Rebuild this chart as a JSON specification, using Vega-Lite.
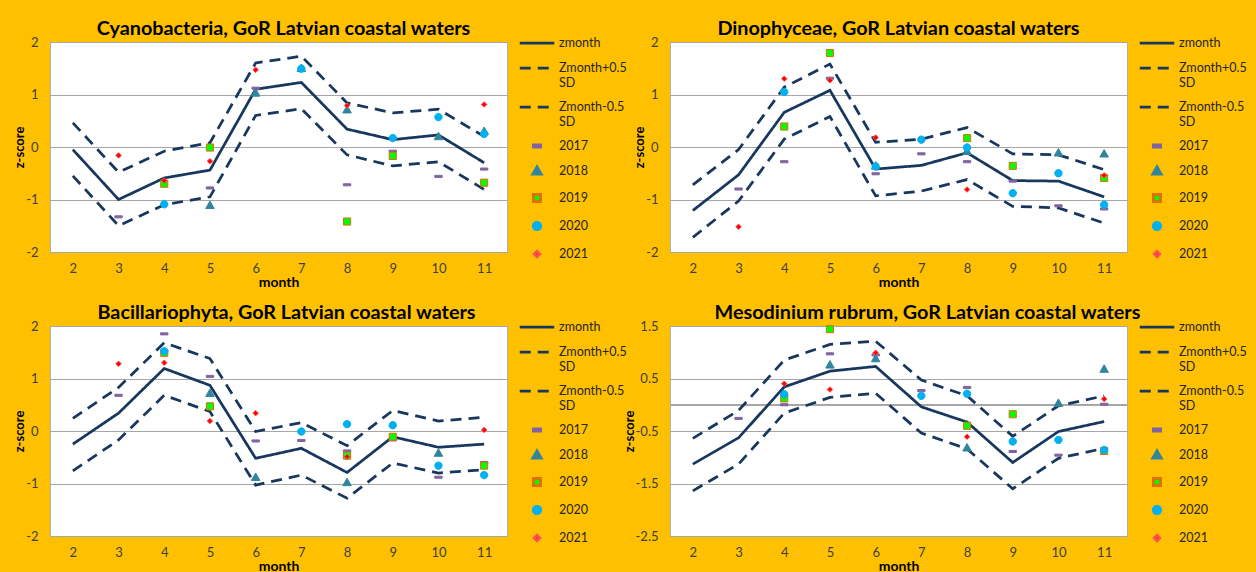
{
  "$schema": "https://vega.github.io/schema/vega-lite/v6.json",
  "background": "#FFC000",
  "padding": {"left": 13, "top": 18, "right": 14, "bottom": 0},
  "bounds": "flush",
  "columns": 2,
  "spacing": {"row": 74, "column": 163},
  "resolve": {
    "scale": {"stroke": "independent", "fill": "independent", "shape": "independent", "strokeDash": "independent"},
    "legend": {"stroke": "independent", "fill": "independent", "shape": "independent", "strokeDash": "independent"}
  },
  "config": {
    "font": "Lato",
    "view": {"stroke": "#b0b0b0", "fill": "white", "strokeWidth": 1},
    "axis": {"labelFont": "Lato", "labelFontSize": 13, "labelColor": "#404040", "titleFont": "Lato", "titleFontSize": 14, "titleFontWeight": "bold", "titleColor": "#000000", "domain": false, "ticks": false},
    "axisX": {"grid": false, "labelPadding": 10, "titlePadding": 0},
    "axisY": {"grid": true, "gridColor": "#a6a6a6", "gridWidth": 1, "labelPadding": 12, "titlePadding": -1, "titleFontSize": 13},
    "title": {"font": "Lato", "fontSize": 19.8, "fontWeight": "bold", "color": "#000000", "anchor": "middle", "frame": "group", "offset": -9},
    "legend": {"title": null, "orient": "none", "legendX": 474, "legendY": -12, "padding": 0, "labelFont": "Lato", "labelFontSize": 12.5, "labelColor": "#262626", "symbolSize": 529, "symbolStrokeWidth": 2.75, "rowPadding": 5, "gridAlign": "each", "labelOffset": 9}
  },
  "datasets": {
    "cyano": [
      {"m":2,"s":"zmonth","v":-0.05},{"m":3,"s":"zmonth","v":-1.0},{"m":4,"s":"zmonth","v":-0.59},{"m":5,"s":"zmonth","v":-0.44},{"m":6,"s":"zmonth","v":1.10},{"m":7,"s":"zmonth","v":1.23},{"m":8,"s":"zmonth","v":0.34},{"m":9,"s":"zmonth","v":0.14},{"m":10,"s":"zmonth","v":0.23},{"m":11,"s":"zmonth","v":-0.30},
      {"m":2,"s":"Zmonth+0.5 SD","v":0.46},{"m":3,"s":"Zmonth+0.5 SD","v":-0.48},{"m":4,"s":"Zmonth+0.5 SD","v":-0.08},{"m":5,"s":"Zmonth+0.5 SD","v":0.08},{"m":6,"s":"Zmonth+0.5 SD","v":1.60},{"m":7,"s":"Zmonth+0.5 SD","v":1.73},{"m":8,"s":"Zmonth+0.5 SD","v":0.84},{"m":9,"s":"Zmonth+0.5 SD","v":0.65},{"m":10,"s":"Zmonth+0.5 SD","v":0.72},{"m":11,"s":"Zmonth+0.5 SD","v":0.20},
      {"m":2,"s":"Zmonth-0.5 SD","v":-0.55},{"m":3,"s":"Zmonth-0.5 SD","v":-1.50},{"m":4,"s":"Zmonth-0.5 SD","v":-1.10},{"m":5,"s":"Zmonth-0.5 SD","v":-0.95},{"m":6,"s":"Zmonth-0.5 SD","v":0.60},{"m":7,"s":"Zmonth-0.5 SD","v":0.73},{"m":8,"s":"Zmonth-0.5 SD","v":-0.15},{"m":9,"s":"Zmonth-0.5 SD","v":-0.36},{"m":10,"s":"Zmonth-0.5 SD","v":-0.28},{"m":11,"s":"Zmonth-0.5 SD","v":-0.81},
      {"m":3,"s":"2017","v":-1.33},{"m":5,"s":"2017","v":-0.78},{"m":6,"s":"2017","v":1.12},{"m":8,"s":"2017","v":-0.72},{"m":9,"s":"2017","v":-0.08},{"m":10,"s":"2017","v":-0.56},{"m":11,"s":"2017","v":-0.42},
      {"m":5,"s":"2018","v":-1.11},{"m":6,"s":"2018","v":1.03},{"m":7,"s":"2018","v":1.50},{"m":8,"s":"2018","v":0.71},{"m":10,"s":"2018","v":0.20},{"m":11,"s":"2018","v":0.30},
      {"m":4,"s":"2019","v":-0.70},{"m":5,"s":"2019","v":-0.01},{"m":8,"s":"2019","v":-1.42},{"m":9,"s":"2019","v":-0.17},{"m":11,"s":"2019","v":-0.68},
      {"m":4,"s":"2020","v":-1.09},{"m":7,"s":"2020","v":1.49},{"m":9,"s":"2020","v":0.17},{"m":10,"s":"2020","v":0.57},{"m":11,"s":"2020","v":0.25},
      {"m":3,"s":"2021","v":-0.16},{"m":4,"s":"2021","v":-0.64},{"m":5,"s":"2021","v":-0.27},{"m":6,"s":"2021","v":1.47},{"m":8,"s":"2021","v":0.79},{"m":11,"s":"2021","v":0.81}
    ],
    "dino": [
      {"m":2,"s":"zmonth","v":-1.21},{"m":3,"s":"zmonth","v":-0.53},{"m":4,"s":"zmonth","v":0.66},{"m":5,"s":"zmonth","v":1.08},{"m":6,"s":"zmonth","v":-0.42},{"m":7,"s":"zmonth","v":-0.35},{"m":8,"s":"zmonth","v":-0.11},{"m":9,"s":"zmonth","v":-0.64},{"m":10,"s":"zmonth","v":-0.65},{"m":11,"s":"zmonth","v":-0.95},
      {"m":2,"s":"Zmonth+0.5 SD","v":-0.72},{"m":3,"s":"Zmonth+0.5 SD","v":-0.05},{"m":4,"s":"Zmonth+0.5 SD","v":1.14},{"m":5,"s":"Zmonth+0.5 SD","v":1.58},{"m":6,"s":"Zmonth+0.5 SD","v":0.09},{"m":7,"s":"Zmonth+0.5 SD","v":0.15},{"m":8,"s":"Zmonth+0.5 SD","v":0.37},{"m":9,"s":"Zmonth+0.5 SD","v":-0.13},{"m":10,"s":"Zmonth+0.5 SD","v":-0.15},{"m":11,"s":"Zmonth+0.5 SD","v":-0.43},
      {"m":2,"s":"Zmonth-0.5 SD","v":-1.72},{"m":3,"s":"Zmonth-0.5 SD","v":-1.03},{"m":4,"s":"Zmonth-0.5 SD","v":0.15},{"m":5,"s":"Zmonth-0.5 SD","v":0.58},{"m":6,"s":"Zmonth-0.5 SD","v":-0.93},{"m":7,"s":"Zmonth-0.5 SD","v":-0.84},{"m":8,"s":"Zmonth-0.5 SD","v":-0.62},{"m":9,"s":"Zmonth-0.5 SD","v":-1.13},{"m":10,"s":"Zmonth-0.5 SD","v":-1.16},{"m":11,"s":"Zmonth-0.5 SD","v":-1.45},
      {"m":3,"s":"2017","v":-0.80},{"m":4,"s":"2017","v":-0.28},{"m":5,"s":"2017","v":1.31},{"m":6,"s":"2017","v":-0.51},{"m":7,"s":"2017","v":-0.13},{"m":8,"s":"2017","v":-0.28},{"m":9,"s":"2017","v":-0.65},{"m":10,"s":"2017","v":-1.12},{"m":11,"s":"2017","v":-1.18},
      {"m":6,"s":"2018","v":-0.36},{"m":8,"s":"2018","v":-0.08},{"m":10,"s":"2018","v":-0.11},{"m":11,"s":"2018","v":-0.13},
      {"m":4,"s":"2019","v":0.39},{"m":5,"s":"2019","v":1.79},{"m":8,"s":"2019","v":0.17},{"m":9,"s":"2019","v":-0.36},{"m":11,"s":"2019","v":-0.59},
      {"m":4,"s":"2020","v":1.05},{"m":6,"s":"2020","v":-0.37},{"m":7,"s":"2020","v":0.14},{"m":8,"s":"2020","v":-0.01},{"m":9,"s":"2020","v":-0.88},{"m":10,"s":"2020","v":-0.50},{"m":11,"s":"2020","v":-1.10},
      {"m":3,"s":"2021","v":-1.52},{"m":4,"s":"2021","v":1.30},{"m":5,"s":"2021","v":1.27},{"m":6,"s":"2021","v":0.18},{"m":8,"s":"2021","v":-0.81},{"m":11,"s":"2021","v":-0.54}
    ],
    "bacil": [
      {"m":2,"s":"zmonth","v":-0.25},{"m":3,"s":"zmonth","v":0.34},{"m":4,"s":"zmonth","v":1.19},{"m":5,"s":"zmonth","v":0.87},{"m":6,"s":"zmonth","v":-0.52},{"m":7,"s":"zmonth","v":-0.33},{"m":8,"s":"zmonth","v":-0.79},{"m":9,"s":"zmonth","v":-0.11},{"m":10,"s":"zmonth","v":-0.31},{"m":11,"s":"zmonth","v":-0.25},
      {"m":2,"s":"Zmonth+0.5 SD","v":0.24},{"m":3,"s":"Zmonth+0.5 SD","v":0.83},{"m":4,"s":"Zmonth+0.5 SD","v":1.68},{"m":5,"s":"Zmonth+0.5 SD","v":1.38},{"m":6,"s":"Zmonth+0.5 SD","v":-0.01},{"m":7,"s":"Zmonth+0.5 SD","v":0.16},{"m":8,"s":"Zmonth+0.5 SD","v":-0.28},{"m":9,"s":"Zmonth+0.5 SD","v":0.39},{"m":10,"s":"Zmonth+0.5 SD","v":0.19},{"m":11,"s":"Zmonth+0.5 SD","v":0.26},
      {"m":2,"s":"Zmonth-0.5 SD","v":-0.76},{"m":3,"s":"Zmonth-0.5 SD","v":-0.17},{"m":4,"s":"Zmonth-0.5 SD","v":0.68},{"m":5,"s":"Zmonth-0.5 SD","v":0.37},{"m":6,"s":"Zmonth-0.5 SD","v":-1.03},{"m":7,"s":"Zmonth-0.5 SD","v":-0.84},{"m":8,"s":"Zmonth-0.5 SD","v":-1.28},{"m":9,"s":"Zmonth-0.5 SD","v":-0.61},{"m":10,"s":"Zmonth-0.5 SD","v":-0.80},{"m":11,"s":"Zmonth-0.5 SD","v":-0.74},
      {"m":3,"s":"2017","v":0.68},{"m":4,"s":"2017","v":1.85},{"m":5,"s":"2017","v":1.04},{"m":6,"s":"2017","v":-0.19},{"m":7,"s":"2017","v":-0.18},{"m":8,"s":"2017","v":-0.38},{"m":9,"s":"2017","v":-0.17},{"m":10,"s":"2017","v":-0.88},{"m":11,"s":"2017","v":-0.60},
      {"m":5,"s":"2018","v":0.72},{"m":6,"s":"2018","v":-0.88},{"m":8,"s":"2018","v":-0.98},{"m":10,"s":"2018","v":-0.42},
      {"m":4,"s":"2019","v":1.49},{"m":5,"s":"2019","v":0.47},{"m":8,"s":"2019","v":-0.47},{"m":9,"s":"2019","v":-0.11},{"m":11,"s":"2019","v":-0.66},
      {"m":4,"s":"2020","v":1.52},{"m":7,"s":"2020","v":-0.01},{"m":8,"s":"2020","v":0.13},{"m":9,"s":"2020","v":0.11},{"m":10,"s":"2020","v":-0.66},{"m":11,"s":"2020","v":-0.84},
      {"m":3,"s":"2021","v":1.28},{"m":4,"s":"2021","v":1.30},{"m":5,"s":"2021","v":0.19},{"m":6,"s":"2021","v":0.34},{"m":8,"s":"2021","v":-0.49},{"m":11,"s":"2021","v":0.02}
    ],
    "meso": [
      {"m":2,"s":"zmonth","v":-1.13},{"m":3,"s":"zmonth","v":-0.63},{"m":4,"s":"zmonth","v":0.34},{"m":5,"s":"zmonth","v":0.64},{"m":6,"s":"zmonth","v":0.73},{"m":7,"s":"zmonth","v":-0.04},{"m":8,"s":"zmonth","v":-0.33},{"m":9,"s":"zmonth","v":-1.10},{"m":10,"s":"zmonth","v":-0.51},{"m":11,"s":"zmonth","v":-0.32},
      {"m":2,"s":"Zmonth+0.5 SD","v":-0.64},{"m":3,"s":"Zmonth+0.5 SD","v":-0.11},{"m":4,"s":"Zmonth+0.5 SD","v":0.85},{"m":5,"s":"Zmonth+0.5 SD","v":1.15},{"m":6,"s":"Zmonth+0.5 SD","v":1.21},{"m":7,"s":"Zmonth+0.5 SD","v":0.47},{"m":8,"s":"Zmonth+0.5 SD","v":0.17},{"m":9,"s":"Zmonth+0.5 SD","v":-0.60},{"m":10,"s":"Zmonth+0.5 SD","v":-0.02},{"m":11,"s":"Zmonth+0.5 SD","v":0.17},
      {"m":2,"s":"Zmonth-0.5 SD","v":-1.64},{"m":3,"s":"Zmonth-0.5 SD","v":-1.13},{"m":4,"s":"Zmonth-0.5 SD","v":-0.16},{"m":5,"s":"Zmonth-0.5 SD","v":0.14},{"m":6,"s":"Zmonth-0.5 SD","v":0.22},{"m":7,"s":"Zmonth-0.5 SD","v":-0.54},{"m":8,"s":"Zmonth-0.5 SD","v":-0.84},{"m":9,"s":"Zmonth-0.5 SD","v":-1.60},{"m":10,"s":"Zmonth-0.5 SD","v":-1.02},{"m":11,"s":"Zmonth-0.5 SD","v":-0.83},
      {"m":3,"s":"2017","v":-0.26},{"m":4,"s":"2017","v":0.0},{"m":5,"s":"2017","v":0.97},{"m":6,"s":"2017","v":0.95},{"m":7,"s":"2017","v":0.27},{"m":8,"s":"2017","v":0.33},{"m":9,"s":"2017","v":-0.89},{"m":10,"s":"2017","v":-0.96},{"m":11,"s":"2017","v":0.01},
      {"m":5,"s":"2018","v":0.76},{"m":6,"s":"2018","v":0.88},{"m":8,"s":"2018","v":-0.82},{"m":10,"s":"2018","v":0.03},{"m":11,"s":"2018","v":0.68},
      {"m":4,"s":"2019","v":0.12},{"m":5,"s":"2019","v":1.44},{"m":8,"s":"2019","v":-0.40},{"m":9,"s":"2019","v":-0.18},{"m":11,"s":"2019","v":-0.88},
      {"m":4,"s":"2020","v":0.20},{"m":7,"s":"2020","v":0.17},{"m":8,"s":"2020","v":0.21},{"m":9,"s":"2020","v":-0.70},{"m":10,"s":"2020","v":-0.67},{"m":11,"s":"2020","v":-0.86},
      {"m":4,"s":"2021","v":0.40},{"m":5,"s":"2021","v":0.29},{"m":6,"s":"2021","v":0.99},{"m":8,"s":"2021","v":-0.61},{"m":11,"s":"2021","v":0.11}
    ]
  },
  "concat": [
    {
      "width": 457, "height": 210,
      "title": {"text": "Cyanobacteria, GoR Latvian coastal waters", "dx": 5},
      "data": {"name": "cyano"},
      "layer": [
        {"mark": {"type": "line", "strokeWidth": 2.75},
         "transform": [{"filter": "indexof(['zmonth','Zmonth+0.5 SD','Zmonth-0.5 SD'], datum.s) >= 0"}],
         "encoding": {
           "x": {"field": "m", "type": "quantitative", "scale": {"domain": [1.5, 11.5], "nice": false}, "axis": {"values": [2,3,4,5,6,7,8,9,10,11], "title": "month"}},
           "y": {"field": "v", "type": "quantitative", "scale": {"domain": [-2, 2], "nice": false}, "axis": {"values": [-2,-1,0,1,2], "title": "z-score", "labelExpr": "'' + datum.value"}},
           "stroke": {"field": "s", "type": "nominal", "legend": {"labelExpr": "datum.label == 'Zmonth+0.5 SD' ? ['Zmonth+0.5', 'SD'] : datum.label == 'Zmonth-0.5 SD' ? ['Zmonth-0.5', 'SD'] : datum.label"}, "scale": {"domain": ["zmonth","Zmonth+0.5 SD","Zmonth-0.5 SD","2017","2018","2019","2020","2021"], "range": ["#17375E","#17375E","#17375E","#8064A2","#31859C","#E46C0A","#00B0F0","#FF5050"]}},
           "strokeDash": {"field": "s", "type": "nominal", "scale": {"domain": ["zmonth","Zmonth+0.5 SD","Zmonth-0.5 SD","2017","2018","2019","2020","2021"], "range": [[1,0],[11,7],[11,7],[1,0],[1,0],[1,0],[1,0],[1,0]]}}
         }},
        {"mark": {"type": "point", "filled": true, "opacity": 1, "size": 529, "strokeWidth": 1},
         "transform": [{"filter": "indexof(['2017','2018','2019','2020','2021'], datum.s) >= 0"}],
         "encoding": {
           "x": {"field": "m", "type": "quantitative"},
           "y": {"field": "v", "type": "quantitative"},
           "fill": {"field": "s", "type": "nominal", "scale": {"domain": ["zmonth","Zmonth+0.5 SD","Zmonth-0.5 SD","2017","2018","2019","2020","2021"], "range": ["transparent","transparent","transparent","#8064A2","#31859C","#00FF00","#00B0F0","#FF0000"]}},
           "stroke": {"field": "s", "type": "nominal"},
           "shape": {"field": "s", "type": "nominal", "scale": {"domain": ["zmonth","Zmonth+0.5 SD","Zmonth-0.5 SD","2017","2018","2019","2020","2021"], "range": ["M-1.5,0H1.5","M-1.5,0H1.5","M-1.5,0H1.5","M-0.32,-0.09H0.32V0.09H-0.32Z","M0,-0.37L0.37,0.28L-0.37,0.28Z","M-0.31,-0.31H0.31V0.31H-0.31Z","M0.32,0A0.32,0.32,0,1,1,-0.32,0A0.32,0.32,0,1,1,0.32,0Z","M0,-0.24L0.24,0L0,0.24L-0.24,0Z"]}}
         }}
      ]
    },
    {
      "width": 457, "height": 210,
      "title": {"text": "Dinophyceae, GoR Latvian coastal waters", "dx": 0},
      "data": {"name": "dino"},
      "layer": [
        {"mark": {"type": "line", "strokeWidth": 2.75},
         "transform": [{"filter": "indexof(['zmonth','Zmonth+0.5 SD','Zmonth-0.5 SD'], datum.s) >= 0"}],
         "encoding": {
           "x": {"field": "m", "type": "quantitative", "scale": {"domain": [1.5, 11.5], "nice": false}, "axis": {"values": [2,3,4,5,6,7,8,9,10,11], "title": "month"}},
           "y": {"field": "v", "type": "quantitative", "scale": {"domain": [-2, 2], "nice": false}, "axis": {"values": [-2,-1,0,1,2], "title": "z-score", "labelExpr": "'' + datum.value"}},
           "stroke": {"field": "s", "type": "nominal", "legend": {"labelExpr": "datum.label == 'Zmonth+0.5 SD' ? ['Zmonth+0.5', 'SD'] : datum.label == 'Zmonth-0.5 SD' ? ['Zmonth-0.5', 'SD'] : datum.label"}, "scale": {"domain": ["zmonth","Zmonth+0.5 SD","Zmonth-0.5 SD","2017","2018","2019","2020","2021"], "range": ["#17375E","#17375E","#17375E","#8064A2","#31859C","#E46C0A","#00B0F0","#FF5050"]}},
           "strokeDash": {"field": "s", "type": "nominal", "scale": {"domain": ["zmonth","Zmonth+0.5 SD","Zmonth-0.5 SD","2017","2018","2019","2020","2021"], "range": [[1,0],[11,7],[11,7],[1,0],[1,0],[1,0],[1,0],[1,0]]}}
         }},
        {"mark": {"type": "point", "filled": true, "opacity": 1, "size": 529, "strokeWidth": 1},
         "transform": [{"filter": "indexof(['2017','2018','2019','2020','2021'], datum.s) >= 0"}],
         "encoding": {
           "x": {"field": "m", "type": "quantitative"},
           "y": {"field": "v", "type": "quantitative"},
           "fill": {"field": "s", "type": "nominal", "scale": {"domain": ["zmonth","Zmonth+0.5 SD","Zmonth-0.5 SD","2017","2018","2019","2020","2021"], "range": ["transparent","transparent","transparent","#8064A2","#31859C","#00FF00","#00B0F0","#FF0000"]}},
           "stroke": {"field": "s", "type": "nominal"},
           "shape": {"field": "s", "type": "nominal", "scale": {"domain": ["zmonth","Zmonth+0.5 SD","Zmonth-0.5 SD","2017","2018","2019","2020","2021"], "range": ["M-1.5,0H1.5","M-1.5,0H1.5","M-1.5,0H1.5","M-0.32,-0.09H0.32V0.09H-0.32Z","M0,-0.37L0.37,0.28L-0.37,0.28Z","M-0.31,-0.31H0.31V0.31H-0.31Z","M0.32,0A0.32,0.32,0,1,1,-0.32,0A0.32,0.32,0,1,1,0.32,0Z","M0,-0.24L0.24,0L0,0.24L-0.24,0Z"]}}
         }}
      ]
    },
    {
      "width": 457, "height": 210,
      "title": {"text": "Bacillariophyta, GoR Latvian coastal waters", "dx": 8},
      "data": {"name": "bacil"},
      "layer": [
        {"mark": {"type": "line", "strokeWidth": 2.75},
         "transform": [{"filter": "indexof(['zmonth','Zmonth+0.5 SD','Zmonth-0.5 SD'], datum.s) >= 0"}],
         "encoding": {
           "x": {"field": "m", "type": "quantitative", "scale": {"domain": [1.5, 11.5], "nice": false}, "axis": {"values": [2,3,4,5,6,7,8,9,10,11], "title": "month"}},
           "y": {"field": "v", "type": "quantitative", "scale": {"domain": [-2, 2], "nice": false}, "axis": {"values": [-2,-1,0,1,2], "title": "z-score", "labelExpr": "'' + datum.value"}},
           "stroke": {"field": "s", "type": "nominal", "legend": {"labelExpr": "datum.label == 'Zmonth+0.5 SD' ? ['Zmonth+0.5', 'SD'] : datum.label == 'Zmonth-0.5 SD' ? ['Zmonth-0.5', 'SD'] : datum.label"}, "scale": {"domain": ["zmonth","Zmonth+0.5 SD","Zmonth-0.5 SD","2017","2018","2019","2020","2021"], "range": ["#17375E","#17375E","#17375E","#8064A2","#31859C","#E46C0A","#00B0F0","#FF5050"]}},
           "strokeDash": {"field": "s", "type": "nominal", "scale": {"domain": ["zmonth","Zmonth+0.5 SD","Zmonth-0.5 SD","2017","2018","2019","2020","2021"], "range": [[1,0],[11,7],[11,7],[1,0],[1,0],[1,0],[1,0],[1,0]]}}
         }},
        {"mark": {"type": "point", "filled": true, "opacity": 1, "size": 529, "strokeWidth": 1},
         "transform": [{"filter": "indexof(['2017','2018','2019','2020','2021'], datum.s) >= 0"}],
         "encoding": {
           "x": {"field": "m", "type": "quantitative"},
           "y": {"field": "v", "type": "quantitative"},
           "fill": {"field": "s", "type": "nominal", "scale": {"domain": ["zmonth","Zmonth+0.5 SD","Zmonth-0.5 SD","2017","2018","2019","2020","2021"], "range": ["transparent","transparent","transparent","#8064A2","#31859C","#00FF00","#00B0F0","#FF0000"]}},
           "stroke": {"field": "s", "type": "nominal"},
           "shape": {"field": "s", "type": "nominal", "scale": {"domain": ["zmonth","Zmonth+0.5 SD","Zmonth-0.5 SD","2017","2018","2019","2020","2021"], "range": ["M-1.5,0H1.5","M-1.5,0H1.5","M-1.5,0H1.5","M-0.32,-0.09H0.32V0.09H-0.32Z","M0,-0.37L0.37,0.28L-0.37,0.28Z","M-0.31,-0.31H0.31V0.31H-0.31Z","M0.32,0A0.32,0.32,0,1,1,-0.32,0A0.32,0.32,0,1,1,0.32,0Z","M0,-0.24L0.24,0L0,0.24L-0.24,0Z"]}}
         }}
      ]
    },
    {
      "width": 457, "height": 210,
      "title": {"text": "Mesodinium rubrum, GoR Latvian coastal waters", "dx": 29},
      "data": {"name": "meso"},
      "layer": [
        {"mark": {"type": "rule", "color": "#a6a6a6", "strokeWidth": 1},
         "encoding": {"y": {"datum": 0, "type": "quantitative"}}},
        {"mark": {"type": "line", "strokeWidth": 2.75},
         "transform": [{"filter": "indexof(['zmonth','Zmonth+0.5 SD','Zmonth-0.5 SD'], datum.s) >= 0"}],
         "encoding": {
           "x": {"field": "m", "type": "quantitative", "scale": {"domain": [1.5, 11.5], "nice": false}, "axis": {"values": [2,3,4,5,6,7,8,9,10,11], "title": "month"}},
           "y": {"field": "v", "type": "quantitative", "scale": {"domain": [-2.5, 1.5], "nice": false}, "axis": {"values": [-2.5,-1.5,-0.5,0.5,1.5], "title": "z-score", "labelExpr": "'' + datum.value"}},
           "stroke": {"field": "s", "type": "nominal", "legend": {"labelExpr": "datum.label == 'Zmonth+0.5 SD' ? ['Zmonth+0.5', 'SD'] : datum.label == 'Zmonth-0.5 SD' ? ['Zmonth-0.5', 'SD'] : datum.label"}, "scale": {"domain": ["zmonth","Zmonth+0.5 SD","Zmonth-0.5 SD","2017","2018","2019","2020","2021"], "range": ["#17375E","#17375E","#17375E","#8064A2","#31859C","#E46C0A","#00B0F0","#FF5050"]}},
           "strokeDash": {"field": "s", "type": "nominal", "scale": {"domain": ["zmonth","Zmonth+0.5 SD","Zmonth-0.5 SD","2017","2018","2019","2020","2021"], "range": [[1,0],[11,7],[11,7],[1,0],[1,0],[1,0],[1,0],[1,0]]}}
         }},
        {"mark": {"type": "point", "filled": true, "opacity": 1, "size": 529, "strokeWidth": 1},
         "transform": [{"filter": "indexof(['2017','2018','2019','2020','2021'], datum.s) >= 0"}],
         "encoding": {
           "x": {"field": "m", "type": "quantitative"},
           "y": {"field": "v", "type": "quantitative"},
           "fill": {"field": "s", "type": "nominal", "scale": {"domain": ["zmonth","Zmonth+0.5 SD","Zmonth-0.5 SD","2017","2018","2019","2020","2021"], "range": ["transparent","transparent","transparent","#8064A2","#31859C","#00FF00","#00B0F0","#FF0000"]}},
           "stroke": {"field": "s", "type": "nominal"},
           "shape": {"field": "s", "type": "nominal", "scale": {"domain": ["zmonth","Zmonth+0.5 SD","Zmonth-0.5 SD","2017","2018","2019","2020","2021"], "range": ["M-1.5,0H1.5","M-1.5,0H1.5","M-1.5,0H1.5","M-0.32,-0.09H0.32V0.09H-0.32Z","M0,-0.37L0.37,0.28L-0.37,0.28Z","M-0.31,-0.31H0.31V0.31H-0.31Z","M0.32,0A0.32,0.32,0,1,1,-0.32,0A0.32,0.32,0,1,1,0.32,0Z","M0,-0.24L0.24,0L0,0.24L-0.24,0Z"]}}
         }}
      ]
    }
  ]
}
